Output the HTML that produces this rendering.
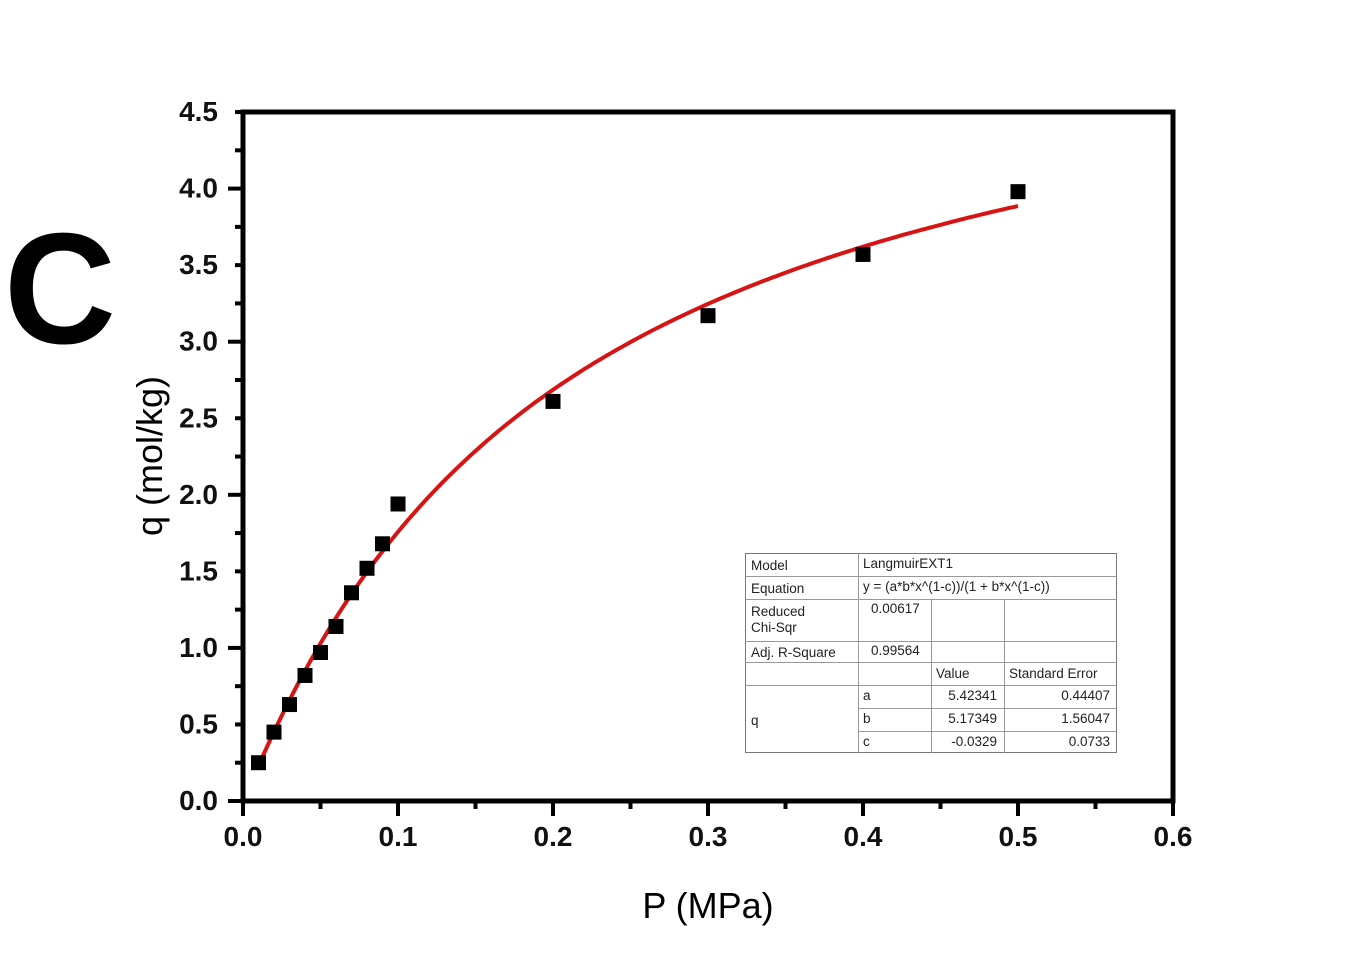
<!DOCTYPE html>
<html><head><meta charset="utf-8"><style>
html,body{margin:0;padding:0;background:#fff;}
body{width:1363px;height:961px;position:relative;overflow:hidden;font-family:"Liberation Sans",sans-serif;}
</style></head><body>
<svg width="1363" height="961" xmlns="http://www.w3.org/2000/svg" style="position:absolute;left:0;top:0">
<text x="4" y="343" font-family="Liberation Sans, sans-serif" font-weight="bold" font-size="158" fill="#000" textLength="112" lengthAdjust="spacingAndGlyphs">C</text>
<g id="ticks" stroke="#000" stroke-width="4"></g>
<rect x="243" y="112" width="930" height="689" fill="none" stroke="#000" stroke-width="5"/>
<g font-family="Liberation Sans, sans-serif" font-weight="bold" font-size="28" fill="#111" text-anchor="end" id="ylab"></g>
<g font-family="Liberation Sans, sans-serif" font-weight="bold" font-size="28" fill="#111" text-anchor="middle" id="xlab"></g>
<text x="708" y="918" font-size="36" text-anchor="middle" font-family="Liberation Sans, sans-serif">P (MPa)</text>
<text transform="translate(162,456) rotate(-90)" font-size="36" text-anchor="middle" font-family="Liberation Sans, sans-serif">q (mol/kg)</text>
<path id="curve" fill="none" stroke="#d61414" stroke-width="4"/>
<g id="pts" fill="#000"></g>
<g stroke="#999" stroke-width="1" fill="none">
<rect x="745.5" y="553.5" width="371" height="199" stroke="#777"/>
<line x1="745" y1="576.5" x2="1117" y2="576.5"/>
<line x1="745" y1="599.5" x2="1117" y2="599.5"/>
<line x1="745" y1="641.5" x2="1117" y2="641.5"/>
<line x1="745" y1="662.5" x2="1117" y2="662.5"/>
<line x1="745" y1="685.5" x2="1117" y2="685.5"/>
<line x1="858" y1="708.5" x2="1117" y2="708.5"/>
<line x1="858" y1="731.5" x2="1117" y2="731.5"/>
<line x1="858.5" y1="553" x2="858.5" y2="753"/>
<line x1="931.5" y1="599" x2="931.5" y2="753"/>
<line x1="1004.5" y1="599" x2="1004.5" y2="753"/>
</g>
<g font-family="Liberation Sans, sans-serif" font-size="13.5" fill="#222">
<text x="751" y="570">Model</text>
<text x="863" y="568">LangmuirEXT1</text>
<text x="751" y="593">Equation</text>
<text x="863" y="591">y = (a*b*x^(1-c))/(1 + b*x^(1-c))</text>
<text x="751" y="616">Reduced</text>
<text x="751" y="632">Chi-Sqr</text>
<text x="871" y="613">0.00617</text>
<text x="751" y="657">Adj. R-Square</text>
<text x="871" y="655">0.99564</text>
<text x="936" y="678">Value</text>
<text x="1009" y="678">Standard Error</text>
<text x="751" y="725">q</text>
<text x="863" y="700">a</text>
<text x="863" y="723">b</text>
<text x="863" y="746">c</text>
<g text-anchor="end">
<text x="997" y="700">5.42341</text>
<text x="997" y="723">5.17349</text>
<text x="997" y="746">-0.0329</text>
<text x="1110" y="700">0.44407</text>
<text x="1110" y="723">1.56047</text>
<text x="1110" y="746">0.0733</text>
</g></g>
</svg>
<script>
var X=function(v){return 243+v*1550;},Y=function(v){return 801-v*153.1;};
var ns="http://www.w3.org/2000/svg";
function el(t,a,p){var e=document.createElementNS(ns,t);for(var k in a)e.setAttribute(k,a[k]);document.getElementById(p).appendChild(e);return e;}
for(var i=0;i<=9;i++){var y=Y(i*0.5);var maj=i%2==0;
 el('line',{x1:243,x2:maj?228:235,y1:y,y2:y},'ticks');
 if(i<9){var ym=Y(i*0.5+0.25);el('line',{x1:243,x2:235,y1:ym,y2:ym},'ticks');}
 var t=el('text',{x:218,y:y+9},'ylab');t.textContent=(i*0.5).toFixed(1);}
for(var i=0;i<=6;i++){var x=X(i*0.1);
 el('line',{x1:x,x2:x,y1:801,y2:816},'ticks');
 if(i<6){var xm=X(i*0.1+0.05);el('line',{x1:xm,x2:xm,y1:801,y2:809},'ticks');}
 var t=el('text',{x:x,y:846},'xlab');t.textContent=(i*0.1).toFixed(1);}
var d='';for(var k=0;k<=200;k++){var x=0.01+k*0.49/200;var xp=Math.pow(x,1.0329);var f=5.42341*5.17349*xp/(1+5.17349*xp);d+=(k?'L':'M')+X(x).toFixed(1)+' '+Y(f).toFixed(1);}
document.getElementById('curve').setAttribute('d',d);
var P=[[0.01,0.25],[0.02,0.45],[0.03,0.63],[0.04,0.82],[0.05,0.97],[0.06,1.14],[0.07,1.36],[0.08,1.52],[0.09,1.68],[0.1,1.94],[0.2,2.61],[0.3,3.17],[0.4,3.57],[0.5,3.98]];
P.forEach(function(p){el('rect',{x:X(p[0])-7.5,y:Y(p[1])-7.5,width:15,height:15},'pts');});
</script>
</body></html>
